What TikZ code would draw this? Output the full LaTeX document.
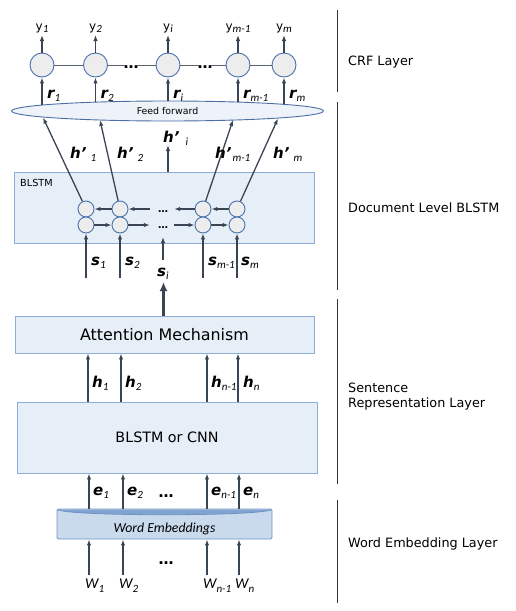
\documentclass[tikz,border=0pt]{standalone}
\usepackage{fontspec}
\setmainfont{DejaVu Sans}
\newfontfamily\cali{Carlito}
\usetikzlibrary{arrows.meta,shapes.geometric}
\definecolor{arrowc}{HTML}{3A4554}
\definecolor{circfill}{HTML}{EDEDED}
\definecolor{circdraw}{HTML}{4A73AE}
\definecolor{boxfill}{HTML}{E6EEF7}
\definecolor{boxdraw}{HTML}{8AAED8}
\definecolor{ellfill}{HTML}{EEF2F9}
\definecolor{elldraw}{HTML}{4B6FA5}
\definecolor{embfill}{HTML}{C9DAEC}
\definecolor{embdraw}{HTML}{6E93C4}
\definecolor{bandc}{HTML}{80A3D0}
\definecolor{barc}{HTML}{2E3440}
\definecolor{linec}{HTML}{5A6470}
\newcommand\blab[2]{{\fontsize{15}{16}\selectfont\bfseries\itshape #1}\raisebox{-3pt}{\cali\itshape\fontsize{11}{12}\selectfont #2}}
\newcommand\ylab[2]{{\fontsize{12}{14}\selectfont #1}\raisebox{-2pt}{\cali\itshape\fontsize{11}{12}\selectfont #2}}
\newcommand\wlab[2]{{\cali\itshape\fontsize{15}{16}\selectfont #1}\raisebox{-4pt}{\cali\itshape\fontsize{11}{12}\selectfont #2}}
\begin{document}
\begin{tikzpicture}[x=1pt,y=-1pt,
 arr/.style={draw=arrowc,line width=1.3pt,-{Latex[length=6pt,width=4.5pt]}},
 bigarr/.style={draw=arrowc,line width=2.6pt,-{Latex[length=9pt,width=8pt]}},
 crf/.style={circle,draw=circdraw,fill=circfill,line width=0.9pt,minimum size=24pt,inner sep=0},
 cell/.style={circle,draw=circdraw,fill=circfill,line width=0.9pt,minimum size=16pt,inner sep=0},
 box/.style={draw=boxdraw,fill=boxfill,line width=0.9pt,inner sep=0},
 lbl/.style={inner sep=0,anchor=base west},
 side/.style={inner sep=0,anchor=west,font=\fontsize{12.8}{15}\selectfont,align=left},
 bar/.style={draw=barc,line width=1.3pt},
 dots/.style={inner sep=0,font=\fontsize{15}{15}\selectfont\bfseries},
 gline/.style={draw=linec,line width=1pt},
]
\useasboundingbox (0,0) rectangle (516,611);

% ---------- CRF layer ----------
\node[ellipse,draw=elldraw,fill=ellfill,line width=0.9pt,minimum width=312pt,minimum height=20pt,inner sep=0,font=\fontsize{9.4}{10}\selectfont] (ff) at (167.5,111) {Feed forward};

\node[crf] (c1) at (42,65) {};
\node[crf] (c2) at (95.5,65) {};
\node[crf] (c3) at (168,65) {};
\node[crf] (c4) at (238,65) {};
\node[crf] (c5) at (284,65) {};
\node[dots,inner xsep=6pt,minimum height=6pt] (cd1) at (131,65) {};
\node[dots,inner xsep=6pt,minimum height=6pt] (cd2) at (205,65) {};
\node[dots,anchor=base] (cdt1) at (131,68) {…};
\node[dots,anchor=base] (cdt2) at (205,68) {…};
\draw[gline] (c1) -- (c2);
\draw[gline] (c2) -- (cd1);
\draw[gline] (cd1) -- (c3);
\draw[gline] (c3) -- (cd2);
\draw[gline] (cd2) -- (c4);
\draw[gline] (c4) -- (c5);

\coordinate (y1t) at (42,35);
\coordinate (y2t) at (95.5,35);
\coordinate (y3t) at (168,35);
\coordinate (y4t) at (238,35);
\coordinate (y5t) at (284,35);
\foreach \i in {1,...,5} {\draw[arr] (c\i) -- (y\i t);}
\node[inner sep=0,anchor=base] (ly1) at (42,30) {\ylab{y}{1}};
\node[inner sep=0,anchor=base] (ly2) at (95.5,30) {\ylab{y}{2}};
\node[inner sep=0,anchor=base] (ly3) at (168,30) {\ylab{y}{i}};
\node[inner sep=0,anchor=base] (ly4) at (238,30) {\ylab{y}{m-1}};
\node[inner sep=0,anchor=base] (ly5) at (284,30) {\ylab{y}{m}};

\coordinate (r1b) at (42,105);
\coordinate (r2b) at (95.5,102.2);
\coordinate (r3b) at (168,101.2);
\coordinate (r4b) at (238,102.2);
\coordinate (r5b) at (284,104.4);
\foreach \i in {1,...,5} {\draw[arr] (r\i b) -- (c\i);}
\node[lbl] (lr1) at (47,98) {\blab{r}{1}};
\node[lbl] (lr2) at (100.5,98) {\blab{r}{2}};
\node[lbl] (lr3) at (173,98) {\blab{r}{i}};
\node[lbl] (lr4) at (243,98) {\blab{r}{m-1}};
\node[lbl] (lr5) at (289,98) {\blab{r}{m}};

% ---------- Document level BLSTM ----------
\node[box,minimum width=300pt,minimum height=71pt] (blstm) at (164,207.5) {};
\node[inner sep=0,anchor=west,font=\fontsize{9.7}{10}\selectfont] (lblstm) at (20,183) {BLSTM};

\node[cell] (bt1) at (86,209) {};
\node[cell] (bt2) at (120,209) {};
\node[cell] (bt3) at (203,209) {};
\node[cell] (bt4) at (237,209) {};
\node[cell] (bb1) at (86,225) {};
\node[cell] (bb2) at (120,225) {};
\node[cell] (bb3) at (203,225) {};
\node[cell] (bb4) at (237,225) {};
\node[inner sep=0,inner xsep=12pt,minimum height=8pt] (dt) at (162,209) {};
\node[inner sep=0,inner xsep=12pt,minimum height=8pt] (db) at (162,225) {};
\node[dots,anchor=base,font=\fontsize{10}{10}\selectfont\bfseries] (dtt) at (163,212) {…};
\node[dots,anchor=base,font=\fontsize{10}{10}\selectfont\bfseries] (dbt) at (163,228) {…};
\draw[arr] (bt2) -- (bt1);
\draw[arr] (dt) -- (bt2);
\draw[arr] (bt3) -- (dt);
\draw[arr] (bt4) -- (bt3);
\draw[arr] (bb1) -- (bb2);
\draw[arr] (bb2) -- (db);
\draw[arr] (db) -- (bb3);
\draw[arr] (bb3) -- (bb4);

\coordinate (hp1) at (43,117.5);
\coordinate (hp2) at (100,120);
\coordinate (hp3) at (233,120);
\coordinate (hp4) at (278,118.5);
\draw[arr] (bt1) -- (hp1);
\draw[arr] (bt2) -- (hp2);
\draw[arr] (bt3) -- (hp3);
\draw[arr] (bt4) -- (hp4);
\coordinate (hpi) at (168,145);
\draw[arr] (blstm.north -| hpi) -- (hpi);
\node[lbl] (lh1) at (70,158) {\blab{h’}{\hspace{4pt}1}};
\node[lbl] (lh2) at (117,158) {\blab{h’}{\hspace{4pt}2}};
\node[lbl] (lhi) at (163,142) {\blab{h’}{\hspace{6pt}i}};
\node[lbl] (lh3) at (215,158) {\blab{h’}{\hspace{1pt}m-1}};
\node[lbl] (lh4) at (273,158) {\blab{h’}{\hspace{4pt}m}};

\coordinate (s1) at (86,278);
\coordinate (s2) at (120,278);
\coordinate (s3) at (203,278);
\coordinate (s4) at (237,278);
\draw[arr] (s1) -- (bb1);
\draw[arr] (s2) -- (bb2);
\draw[arr] (s3) -- (bb3);
\draw[arr] (s4) -- (bb4);
\node[lbl] (ls1) at (91,265) {\blab{s}{1}};
\node[lbl] (ls2) at (125,265) {\blab{s}{2}};
\node[lbl] (ls3) at (208,265) {\blab{s}{m-1}};
\node[lbl] (ls4) at (241,265) {\blab{s}{m}};
\coordinate (sib) at (163,260);
\coordinate (sit) at (163,237);
\draw[arr] (sib) -- (sit);
\node[lbl] (lsi) at (157,276) {\blab{s}{i}};

% ---------- Sentence representation ----------
\node[box,minimum width=299pt,minimum height=37pt,font=\fontsize{15.9}{18}\selectfont] (att) at (164.5,334.5) {Attention Mechanism};
\coordinate (bigt) at (163.5,282);
\draw[bigarr] (att.north -| bigt) -- (bigt);

\node[box,minimum width=300pt,minimum height=71pt,font=\fontsize{14.3}{16}\selectfont] (cnn) at (167,437.5) {BLSTM or CNN};
\draw[arr] (cnn.north -| 88,0) -- (att.south -| 88,0);
\draw[arr] (cnn.north -| 121,0) -- (att.south -| 121,0);
\draw[arr] (cnn.north -| 207,0) -- (att.south -| 207,0);
\draw[arr] (cnn.north -| 238,0) -- (att.south -| 238,0);
\node[lbl] (lhh1) at (92,387) {\blab{h}{1}};
\node[lbl] (lhh2) at (125,387) {\blab{h}{2}};
\node[lbl] (lhh3) at (211,387) {\blab{h}{n-1}};
\node[lbl] (lhh4) at (243,387) {\blab{h}{n}};

% ---------- Word embedding ----------
\node[draw=embdraw,fill=embfill,line width=0.9pt,minimum width=215pt,minimum height=30pt,inner sep=0,rounded corners=1.5pt] (emb) at (164.5,524) {};
\fill[bandc] (57.5,509.5) -- (271.5,509.5) .. controls (262,516.5) and (67,516.5) .. (57.5,509.5) -- cycle;
\draw[draw=embdraw,line width=0.8pt] (57.5,509.5) .. controls (67,516.5) and (262,516.5) .. (271.5,509.5);
\node[inner sep=0,font=\cali\itshape\fontsize{13.8}{15}\selectfont] (wemb) at (164.5,529) {Word Embeddings};

\draw[arr] (emb.north -| 89,0) -- (cnn.south -| 89,0);
\draw[arr] (emb.north -| 123,0) -- (cnn.south -| 123,0);
\draw[arr] (emb.north -| 207,0) -- (cnn.south -| 207,0);
\draw[arr] (emb.north -| 239,0) -- (cnn.south -| 239,0);
\node[lbl] (le1) at (93,495) {\blab{e}{1}};
\node[lbl] (le2) at (127,495) {\blab{e}{2}};
\node[lbl] (le3) at (211,495) {\blab{e}{n-1}};
\node[lbl] (le4) at (243,495) {\blab{e}{n}};
\node[dots,anchor=base] (edots) at (166,497) {…};

\coordinate (w1) at (89,575);
\coordinate (w2) at (123,575);
\coordinate (w3) at (207,575);
\coordinate (w4) at (239,575);
\draw[arr] (w1) -- (emb.south -| w1);
\draw[arr] (w2) -- (emb.south -| w2);
\draw[arr] (w3) -- (emb.south -| w3);
\draw[arr] (w4) -- (emb.south -| w4);
\node[lbl] (lw1) at (85,588) {\wlab{W}{1}};
\node[lbl] (lw2) at (119,588) {\wlab{W}{2}};
\node[lbl] (lw3) at (203,588) {\wlab{W}{n-1}};
\node[lbl] (lw4) at (235,588) {\wlab{W}{n}};
\node[dots,anchor=base] (wdots) at (166,564) {…};

% ---------- Layer brackets ----------
\draw[bar] (337.5,10) -- (337.5,92);
\draw[bar] (337.5,102) -- (337.5,290);
\draw[bar] (337.5,299) -- (337.5,484);
\draw[bar] (337.5,500) -- (337.5,603);
\node[side] (lcrf) at (348,62) {CRF Layer};
\node[side] (ldoc) at (348,208) {Document Level BLSTM};
\node[side] (lsen) at (348,396.5) {Sentence\\Representation Layer};
\node[side] (lwe) at (348,544) {Word Embedding Layer};
\end{tikzpicture}
\end{document}
